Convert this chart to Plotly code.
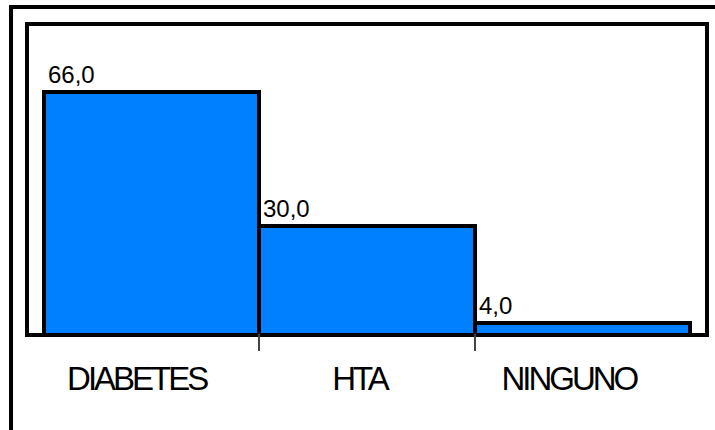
import plotly.graph_objects as go

# Data
categories = ["DIABETES", "HTA", "NINGUNO"]
values = [66.0, 30.0, 4.0]
value_labels = [f"{v:.1f}".replace(".", ",") for v in values]
divider_ticks = [0.5, 1.5]

BAR_COLOR = "#0080ff"
FONT = "Liberation Sans, Arial, sans-serif"

fig = go.Figure()

fig.add_trace(go.Bar(
    x=list(range(len(categories))),
    y=values,
    width=1.0,
    marker=dict(color=BAR_COLOR, line=dict(color="black", width=4)),
    hoverinfo="skip",
))

# value labels sitting on the top-left corner of each bar
for i, (v, t) in enumerate(zip(values, value_labels)):
    fig.add_annotation(
        x=i - 0.5, y=v, xref="x", yref="y",
        text=t, showarrow=False,
        xanchor="left", yanchor="bottom",
        xshift=2, yshift=2,
        font=dict(family=FONT, size=24, color="black"),
    )

# outer frame (only the top and left edges fall inside the page)
fig.add_shape(
    type="rect", xref="paper", yref="paper",
    x0=-0.0266, x1=1.05, y0=-0.5, y1=1.0619,
    line=dict(color="black", width=4), fillcolor="rgba(0,0,0,0)",
    layer="above",
)

fig.update_layout(
    template="none",
    width=715, height=430,
    margin=dict(l=29, r=10, t=26, b=97),
    paper_bgcolor="white", plot_bgcolor="white",
    showlegend=False, bargap=0,
    font=dict(family=FONT, color="black"),
    xaxis=dict(
        range=[-0.5697, 2.5697], automargin=False,
        tickmode="array", tickvals=list(range(len(categories))), ticktext=categories,
        ticks="", showgrid=False, zeroline=False,
        showline=True, linecolor="black", linewidth=4, mirror=True,
        tickfont=dict(family=FONT, size=33, color="black"),
        ticklabelstandoff=13,
    ),
    xaxis2=dict(
        overlaying="x", matches="x", side="bottom", automargin=False,
        tickmode="array", tickvals=divider_ticks,
        showticklabels=False, ticks="outside", ticklen=17,
        tickwidth=2, tickcolor="#444444",
        showgrid=False, zeroline=False, showline=False,
    ),
    yaxis=dict(
        range=[1.2, 83.7], automargin=False,
        showticklabels=False, ticks="",
        showgrid=False, zeroline=False,
        showline=True, linecolor="black", linewidth=4, mirror=True,
    ),
)

# empty trace so the divider axis is drawn
fig.add_trace(go.Scatter(x=[0], y=[None], xaxis="x2", yaxis="y",
                         mode="markers", hoverinfo="skip", showlegend=False))

# category labels: tight tracking, starting where the normally spaced text would start
tighten_js = """
var gd = document.getElementById('{plot_id}');
function tighten() {
  gd.querySelectorAll('.xtick text').forEach(function (t) {
    if (t.getAttribute('data-tight')) { return; }
    var w = t.getComputedTextLength();
    var x = parseFloat(t.getAttribute('x'));
    t.style.letterSpacing = '-3px';
    t.setAttribute('text-anchor', 'start');
    t.setAttribute('x', x - w / 2 - 3);
    t.setAttribute('data-tight', '1');
  });
}
tighten();
gd.on('plotly_afterplot', tighten);
"""

fig.write_html("out.html", post_script=tighten_js)
